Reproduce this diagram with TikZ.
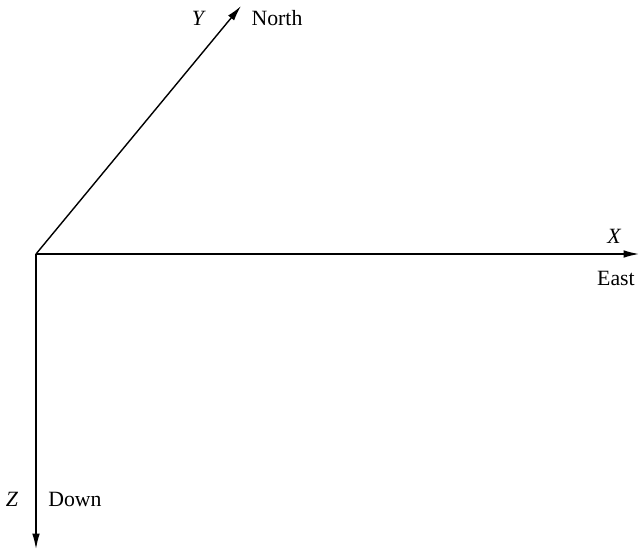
\documentclass[tikz,border=0pt]{standalone}
\usepackage{fontspec}
\setmainfont{Liberation Serif}
\usepackage{tikz}
\usetikzlibrary{arrows.meta, positioning}

\begin{document}
\begin{tikzpicture}[
    x=0.025cm, y=-0.025cm,
    axis/.style={->, >={Latex[length=11pt,width=5.5pt]}, line width=1pt},
    lbl/.style={inner sep=0pt, font=\fontsize{15.5}{18}\selectfont},
    var/.style={lbl, font=\fontsize{15.5}{18}\selectfont\itshape}
]
    \useasboundingbox (0,0) rectangle (639,551);
    \coordinate (origin) at (36,254);
    \coordinate (north) at (241,6);
    \coordinate (east) at (639,254);
    \coordinate (down) at (36,549);

    \draw[axis] (origin) -- (north);
    \draw[axis] (origin) -- (east);
    \draw[axis] (origin) -- (down);

    \node[var] (ylbl) at (198,18) {Y};
    \node[lbl] (northlbl) at (277,18) {North};
    \node[var] (xlbl) at (614,236) {X};
    \node[lbl] (eastlbl) at (616,278) {East};
    \node[var] (zlbl) at (12,499) {Z};
    \node[lbl] (downlbl) at (75,499) {Down};
\end{tikzpicture}
\end{document}
